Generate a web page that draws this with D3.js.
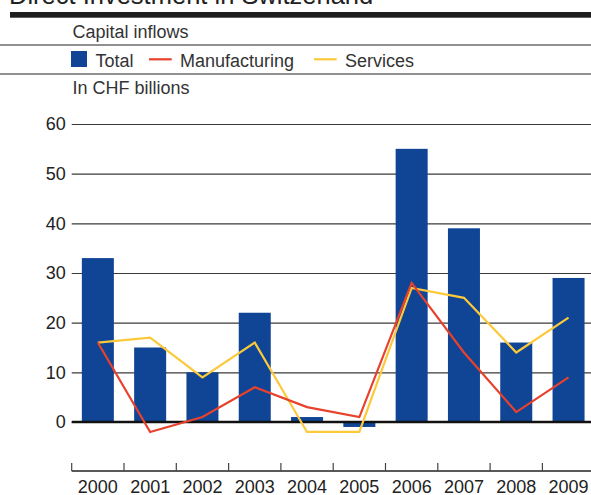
<!DOCTYPE html>
<html>
<head>
<meta charset="utf-8">
<script src="https://cdn.jsdelivr.net/npm/d3@7"></script>
<style>
  html, body { margin: 0; padding: 0; background: #fff; }
  svg { display: block; font-family: "Liberation Sans", Arial, Helvetica, sans-serif; }
</style>
</head>
<body>
<svg id="chart" width="591" height="495"></svg>
<script>
const years = ["2000","2001","2002","2003","2004","2005","2006","2007","2008","2009"];
const total = [33, 15, 10, 22, 1, -1, 55, 39, 16, 29];
const manufacturing = [16, -2, 1, 7, 3, 1, 28, 14, 2, 9];
const services = [16, 17, 9, 16, -2, -2, 27, 25, 14, 21];
const yTicks = [0, 10, 20, 30, 40, 50, 60];

const colors = { total: "#0f4594", manufacturing: "#e8412c", services: "#fcc93a" };

const svg = d3.select("#chart");
const W = 591;
const plotLeft = 71.7, plotRight = 594.7;

// Header
svg.append("text").attr("x", 9).attr("y", 3.5)
  .attr("font-size", 25.5).attr("fill", "#222")
  .text("Direct Investment in Switzerland");
svg.append("rect").attr("x", 10).attr("y", 12).attr("width", W - 10).attr("height", 5.7).attr("fill", "#1e1e1e");
svg.append("text").attr("x", 72.5).attr("y", 38.3).attr("font-size", 18).attr("fill", "#333").text("Capital inflows");
svg.append("line").attr("x1", 0).attr("x2", W).attr("y1", 45).attr("y2", 45).attr("stroke", "#222").attr("stroke-width", 1);

// Legend
const lg = svg.append("g");
lg.append("rect").attr("x", 71).attr("y", 51).attr("width", 16).attr("height", 16).attr("fill", colors.total);
lg.append("text").attr("x", 95.5).attr("y", 66.5).attr("font-size", 18).attr("fill", "#333").text("Total");
lg.append("line").attr("x1", 149).attr("x2", 171.7).attr("y1", 59.3).attr("y2", 59.3).attr("stroke", colors.manufacturing).attr("stroke-width", 2.2);
lg.append("text").attr("x", 180).attr("y", 66.5).attr("font-size", 18).attr("fill", "#333").text("Manufacturing");
lg.append("line").attr("x1", 314).attr("x2", 336.7).attr("y1", 59.3).attr("y2", 59.3).attr("stroke", colors.services).attr("stroke-width", 2.2);
lg.append("text").attr("x", 345).attr("y", 66.5).attr("font-size", 18).attr("fill", "#333").text("Services");
svg.append("line").attr("x1", 0).attr("x2", W).attr("y1", 74).attr("y2", 74).attr("stroke", "#222").attr("stroke-width", 1);
svg.append("text").attr("x", 72.5).attr("y", 94).attr("font-size", 18).attr("fill", "#333").text("In CHF billions");

// Scales
const y = d3.scaleLinear().domain([0, 60]).range([422, 124]);
const xOuter = d3.scaleBand().domain(years).range([plotLeft, plotRight]).padding(0);
const barW = xOuter.step() * 0.612;
const xc = d => xOuter(d) + xOuter.bandwidth() / 2;

// Gridlines + y labels
const yAxis = d3.axisLeft(y).tickValues(yTicks).tickSize(-(W - plotLeft)).tickPadding(6).tickFormat(d3.format("d"));
const gy = svg.append("g").attr("transform", `translate(${plotLeft},0)`).call(yAxis);
gy.select(".domain").remove();
gy.selectAll(".tick line").attr("stroke", "#3a3a3a").attr("stroke-width", 1.2);
gy.selectAll(".tick text").attr("font-size", 18).attr("fill", "#222")
  .attr("font-family", "\"Liberation Sans\", Arial, sans-serif");

// Bars
svg.append("g").selectAll("rect").data(years).join("rect")
  .attr("x", (d) => xc(d) - barW / 2)
  .attr("width", barW)
  .attr("y", (d, i) => y(Math.max(0, total[i])))
  .attr("height", (d, i) => Math.abs(y(total[i]) - y(0)))
  .attr("fill", colors.total);

// Zero line
svg.append("line").attr("x1", plotLeft).attr("x2", W).attr("y1", y(0)).attr("y2", y(0))
  .attr("stroke", "#111").attr("stroke-width", 2.4);

// Lines
const line = d3.line().x((d, i) => xc(years[i])).y(d => y(d));
svg.append("path").datum(services).attr("d", line).attr("fill", "none")
  .attr("stroke", colors.services).attr("stroke-width", 2.2).attr("stroke-linejoin", "miter");
svg.append("path").datum(manufacturing).attr("d", line).attr("fill", "none")
  .attr("stroke", colors.manufacturing).attr("stroke-width", 2.2).attr("stroke-linejoin", "miter");

// Bottom axis
const axisY = 471;
const xAxis = d3.axisBottom(xOuter).tickSize(0).tickPadding(9);
const gx = svg.append("g").attr("transform", `translate(0,${axisY})`).call(xAxis);
gx.select(".domain").remove();
gx.selectAll(".tick text").attr("font-size", 18).attr("fill", "#222")
  .attr("font-family", "\"Liberation Sans\", Arial, sans-serif");
svg.append("line").attr("x1", plotLeft).attr("x2", W).attr("y1", axisY).attr("y2", axisY)
  .attr("stroke", "#222").attr("stroke-width", 1.5);
svg.append("g").selectAll("line").data(years).join("line")
  .attr("x1", d => xOuter(d)).attr("x2", d => xOuter(d))
  .attr("y1", 463).attr("y2", axisY)
  .attr("stroke", "#444").attr("stroke-width", 1.2);
</script>
</body>
</html>
